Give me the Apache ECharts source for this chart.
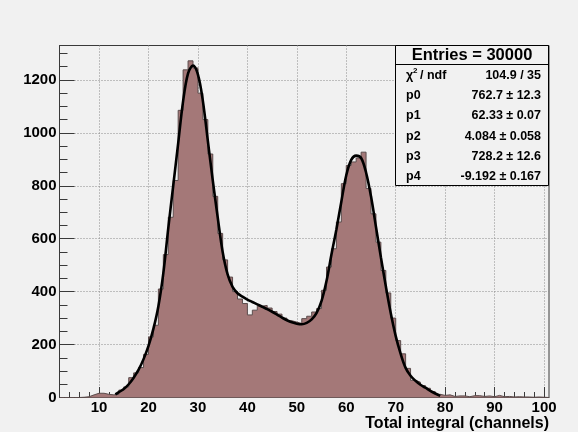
<!DOCTYPE html>
<html><head><meta charset="utf-8">
<script src="https://cdn.jsdelivr.net/npm/echarts@6/dist/echarts.min.js"></script>
<style>html,body{margin:0;padding:0;background:#f1f1f1}#c{width:578px;height:432px}</style>
</head><body><div id="c"></div>
<script>
// Histogram: bins of width 1, first bin starts at x = 2 (bins 2..100)
const binStart = 2;
const binWidth = 1;
const counts = [
  0,0,0,0,1,3,10,16,16,12,
  10,12,28,40,75,93,113,163,229,273,
  410,540,681,820,1085,1238,1272,1245,1150,1050,
  920,760,620,520,455,400,372,355,312,330,
  345,348,338,325,315,300,290,285,280,298,
  307,323,336,405,493,562,663,808,877,890,
  905,927,790,694,587,480,395,300,215,165,
  110,65,58,45,35,22,12,8,10,4,
  6,6,3,7,7,4,6,3,8,3,
  4,2,3,2,2,1,2,1,0
];
// Fit curve
const fitX = [13.3,14,15,16,17,18,19,20,21,22,23,24,25,26,27,28,29,30,31,32,33,34,35,36,37,38,39,40,41,42,43,44,45,46,47,48,49,50,51,52,53,54,55,56,57,58,59,60,61,62,63,64,65,66,67,68,69,70,71,72,73,74,75,76,77,78,79];
const fitY = [12,20,32,50,75,105,145,195,260,345,470,640,800,960,1120,1225,1254,1220,1120,970,820,680,550,465,418,394,381,370,361,352,343,334,324,313,302,292,284,279,277,282,295,320,365,440,540,635,740,840,898,914,905,850,760,645,530,420,318,232,165,112,82,63,48,37,25,15,6];
const xMajorTicks = [10,20,30,40,50,60,70,80,90,100];
const yMajorTicks = [0,200,400,600,800,1000,1200];
const xRange = [2, 101];
const yRange = [0, 1330];
const xTitle = 'Total integral (channels)';
const statsTitle = 'Entries = 30000';
const statsLabels = ['p0','p1','p2','p3','p4'];
const statsValues = ['762.7 \u00b1 12.3','62.33 \u00b1 0.07','4.084 \u00b1 0.058','728.2 \u00b1 12.6','-9.192 \u00b1 0.167'];
const chi2Value = '104.9 / 35';

const xMinorTicks = [];
for (let v = 4; v <= 100; v += 2) if (v % 10 !== 0) xMinorTicks.push(v);
const yMinorTicks = [];
for (let v = 50; v <= 1300; v += 50) if (v % 200 !== 0) yMinorTicks.push(v);

const histData = counts.map((c, i) => [binStart + i * binWidth, c]);
histData.push([binStart + counts.length * binWidth, counts[counts.length - 1]]);
const fitData = fitX.map((x, i) => [x, fitY[i]]);

const FONT = 'Liberation Sans, Arial, Helvetica, sans-serif';
const BG = '#f1f1f1';
const AX = '#3a3a3a';

const chart = echarts.init(document.getElementById('c'), null, {renderer: 'canvas'});

const graphic = [
  {type: 'rect', z: 100, shape: {x: 395.5, y: 45.5, width: 153, height: 140}, style: {fill: BG, stroke: '#000', lineWidth: 1}},
  {type: 'line', z: 101, shape: {x1: 395.5, y1: 64.5, x2: 548.5, y2: 64.5}, style: {stroke: '#000', lineWidth: 1}},
  {type: 'text', z: 102, x: 472, y: 55, style: {text: statsTitle, font: 'bold 16.5px ' + FONT, fill: '#000', textAlign: 'center', textVerticalAlign: 'middle'}},
  {type: 'text', z: 102, x: 406, y: 76, style: {text: '\u03c7', font: 'bold 12.5px ' + FONT, fill: '#000', textAlign: 'left', textVerticalAlign: 'middle'}},
  {type: 'text', z: 102, x: 413, y: 71, style: {text: '2', font: 'bold 8px ' + FONT, fill: '#000', textAlign: 'left', textVerticalAlign: 'middle'}},
  {type: 'text', z: 102, x: 420, y: 76, style: {text: '/ ndf', font: 'bold 12.5px ' + FONT, fill: '#000', textAlign: 'left', textVerticalAlign: 'middle'}},
  {type: 'text', z: 102, x: 541, y: 76, style: {text: chi2Value, font: 'bold 12.5px ' + FONT, fill: '#000', textAlign: 'right', textVerticalAlign: 'middle'}},
  {type: 'text', z: 102, x: 549, y: 423.5, style: {text: xTitle, font: 'bold 16px ' + FONT, fill: '#000', textAlign: 'right', textVerticalAlign: 'middle'}}
];
statsLabels.forEach((lab, i) => {
  const y = 95.8 + i * 20.2;
  graphic.push({type: 'text', z: 102, x: 406, y: y, style: {text: lab, font: 'bold 12.5px ' + FONT, fill: '#000', textAlign: 'left', textVerticalAlign: 'middle'}});
  graphic.push({type: 'text', z: 102, x: 541, y: y, style: {text: statsValues[i], font: 'bold 12.5px ' + FONT, fill: '#000', textAlign: 'right', textVerticalAlign: 'middle'}});
});

const option = {
  animation: false,
  backgroundColor: BG,
  grid: {left: 59.5, top: 45.5, right: 29, bottom: 34.5, show: true, borderColor: AX, borderWidth: 1, backgroundColor: BG},
  xAxis: [
    {type: 'value', min: xRange[0], max: xRange[1],
     axisLine: {show: true, onZero: false, lineStyle: {color: AX, width: 1}},
     axisTick: {show: true, inside: true, length: 10.5, customValues: xMajorTicks, lineStyle: {color: AX, width: 1}},
     axisLabel: {show: true, customValues: xMajorTicks, margin: 3, color: '#000', fontSize: 15, fontWeight: 'bold', fontFamily: FONT, formatter: v => String(v)},
     splitLine: {show: true, lineStyle: {color: '#8a8a8a', type: [1, 2], width: 1}}},
    {type: 'value', min: xRange[0], max: xRange[1], position: 'bottom',
     axisLine: {show: false},
     axisTick: {show: true, inside: true, length: 5.5, customValues: xMinorTicks, lineStyle: {color: AX, width: 1}},
     axisLabel: {show: false}, splitLine: {show: false}}
  ],
  yAxis: [
    {type: 'value', min: yRange[0], max: yRange[1],
     axisLine: {show: true, onZero: false, lineStyle: {color: AX, width: 1}},
     axisTick: {show: true, inside: true, length: 15, customValues: yMajorTicks, lineStyle: {color: AX, width: 1}},
     axisLabel: {show: true, customValues: yMajorTicks, margin: 3, color: '#000', fontSize: 15, fontWeight: 'bold', fontFamily: FONT, formatter: v => String(v)},
     splitLine: {show: true, lineStyle: {color: '#8a8a8a', type: [1, 2], width: 1}}},
    {type: 'value', min: yRange[0], max: yRange[1], position: 'left', offset: 0,
     axisLine: {show: false},
     axisTick: {show: true, inside: true, length: 8, customValues: yMinorTicks, lineStyle: {color: AX, width: 1}},
     axisLabel: {show: false}, splitLine: {show: false}}
  ],
  series: [
    {type: 'line', name: 'hist', xAxisIndex: 0, yAxisIndex: 0, data: histData, step: 'end',
     symbol: 'none', lineStyle: {color: '#5b4c4c', width: 1},
     areaStyle: {color: '#a47878', opacity: 1}, z: 2, silent: true},
    {type: 'line', name: 'fit', xAxisIndex: 0, yAxisIndex: 0, data: fitData, smooth: 0.35,
     symbol: 'none', lineStyle: {color: '#000', width: 2.6}, z: 3, silent: true}
  ],
  graphic: graphic
};
chart.setOption(option);
</script>
</body></html>
